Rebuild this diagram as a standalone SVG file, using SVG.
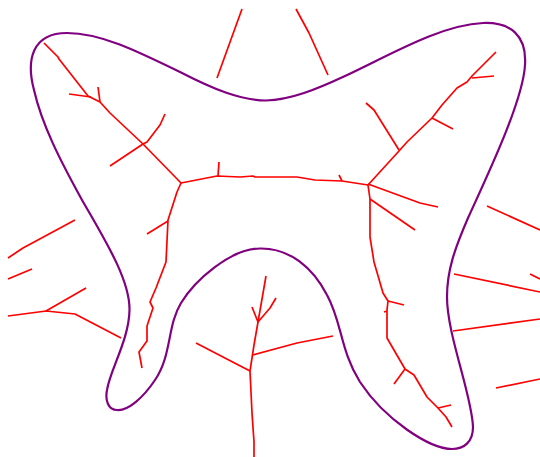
<svg xmlns="http://www.w3.org/2000/svg" width="540" height="457" viewBox="0 0 540 457">
<style>
.b{fill:none;stroke:#800080;stroke-width:2.2}
.r{fill:none;stroke:#ff0000;stroke-width:1.7;stroke-linejoin:round}
</style>
<rect width="540" height="457" fill="#ffffff"/>
<g id="outline">
<path class="b" d="M266 100.5C290 100 315 90 345 76C390 55 440 25 483 23C510 22 527 35 525 65C523 100 490 170 468 218C455 248 447 270 447 297C447 335 472 395 473 427C473 442 464 449 452 449C430 449 385 420 360 382C340 350 342 322 327 295C313 268 290 248 260 248.5C230 249 195 280 181 303C167 326 172 355 155 380C143 398 128 411 117 410C108 410 105 400 107 390C110 370 129 340 129.5 310C130 280 105 240 82 200C60 160 42 125 34 90C26 60 32 33 67 33C100 33 135 50 180 72C215 90 240 100 266 100.5Z"/>
</g>
<g id="connectors">
<path class="r" d="M242 9L217 78"/>
<path class="r" d="M296 9L309 33L328 75"/>
<path class="r" d="M44 43L58 57L59 59L88 96L100 102L110 113L143 144L181 183L217 176L240 177L253 176L255 177L297 177L315 180L342 181L368 185L399 151L407 142L432 118L442 105L457 88L467 82L472 76L496 52"/>
<path class="r" d="M69 94L91 97"/>
<path class="r" d="M98 87L100 102"/>
<path class="r" d="M110 166L143 144L147 142L160 125L165 114"/>
<path class="r" d="M219 162L218 176"/>
<path class="r" d="M472 78L494 76"/>
<path class="r" d="M432 118L453 129"/>
<path class="r" d="M399 150L374 110L366 103"/>
<path class="r" d="M368 184L420 203L438 207"/>
<path class="r" d="M339 175L342 181"/>
<path class="r" d="M368 185L370 199L370 237L374 262L383 293L388 301L387 310L387 338L405 369L414 375L427 397L438 408L446 417L452 427"/>
<path class="r" d="M370 199L415 230"/>
<path class="r" d="M388 301L404 305"/>
<path class="r" d="M384 312L387 311"/>
<path class="r" d="M405 369L394 384"/>
<path class="r" d="M438 408L451 405"/>
<path class="r" d="M181 183L177 192L168 220L166 262L156 288L150 302L153 308L147 326L147 341L139 352L142 368"/>
<path class="r" d="M168 221L147 234"/>
<path class="r" d="M75 220L23 248L8 258"/>
<path class="r" d="M32 269L8 279"/>
<path class="r" d="M86 288L46 311"/>
<path class="r" d="M8 316L46 311L75 314L121 338"/>
<path class="r" d="M266 276L258 322L254 345L250 371L252 413L254 442L254 457"/>
<path class="r" d="M252 307L258 322L270 308L276 298"/>
<path class="r" d="M196 343L250 371"/>
<path class="r" d="M253 355L297 343L333 336"/>
<path class="r" d="M487 206L540 230"/>
<path class="r" d="M454 274L540 292"/>
<path class="r" d="M530 274L540 279"/>
<path class="r" d="M453 331L540 319"/>
<path class="r" d="M496 388L540 379"/>
</g>
</svg>
